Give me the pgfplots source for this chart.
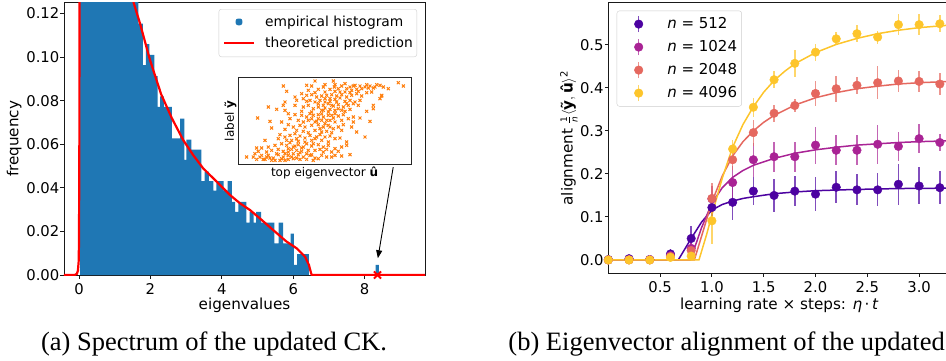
\documentclass[border=0pt]{standalone}
\usepackage{fontspec}
\setmainfont{DejaVu Sans}
\newfontfamily\capfont{Liberation Serif}
\usepackage{pgfplots}
\pgfplotsset{compat=1.18}
\usetikzlibrary{arrows.meta}
\definecolor{histblue}{HTML}{1F77B4}
\definecolor{scatorange}{HTML}{FF7F0E}
\definecolor{cA}{HTML}{4C02A1}
\definecolor{cB}{HTML}{A92395}
\definecolor{cC}{HTML}{E5685F}
\definecolor{cD}{HTML}{FDC52B}
\newcommand\tickfont{\fontsize{14.8}{17}\selectfont}
\newcommand\labfont{\fontsize{15.2}{18}\selectfont}
\pgfplotsset{
  mystyle/.style={
    scale only axis, anchor=south west,
    tick align=outside, major tick length=3.5pt,
    xtick pos=left, ytick pos=left,
    axis line style={line width=0.9pt, black!90},
    tick style={line width=0.9pt, black!90},
    /pgf/number format/assume math mode=true,
    tick label style={font=\tickfont},
    xticklabel style={anchor=base, yshift=-16pt, inner sep=0pt},
    yticklabel style={anchor=east, inner sep=0pt, xshift=-1pt},
    label style={font=\labfont},
  }
}
\begin{document}
\begin{tikzpicture}
\path[use as bounding box] (0,0) rectangle (946pt,360pt);

% ---------------- left panel ----------------
\begin{axis}[mystyle,
  at={(64pt,85pt)}, width=361pt, height=272.3pt,
  xmin=-0.42, xmax=9.69, ymin=0, ymax=0.125,
  xtick={0,2,4,6,8}, xticklabels={0,2,4,6,8},
  ytick={0,0.02,0.04,0.06,0.08,0.10,0.12},
  yticklabels={0.00,0.02,0.04,0.06,0.08,0.10,0.12},
  xlabel={eigenvalues}, ylabel={frequency},
  xlabel style={at={(axis description cs:0.5,-0.1164)}, anchor=base, yshift=-3pt},
  ylabel style={at={(axis description cs:-0.1266,0.5)}, anchor=base},
  legend cell align=left,
  legend style={at={(1,1)}, anchor=north east, xshift=-8pt, yshift=-6.3pt,
    font=\fontsize{13.8}{16}\selectfont, draw=black!20, rounded corners=2.5pt,
    fill=white, inner xsep=4pt, inner ysep=2.5pt,
    nodes={inner xsep=0pt, inner ysep=0pt},
    /tikz/every odd column/.style={column sep=10pt}},
]
\addplot[fill=histblue, draw=none, const plot mark left,
  legend image code/.code={\draw[opacity=0] (0pt,-10pt) rectangle (30pt,10pt);
     \fill[histblue] (11.6pt,-3.4pt) rectangle (18.4pt,3.4pt);}] coordinates {
(0.03,0.3) (1.66,0.1154) (1.79,0.0963) (1.87,0.106) (1.97,0.101) (2.11,0.0913)
(2.20,0.0772) (2.27,0.082) (2.38,0.0772) (2.60,0.0627) (2.83,0.0718) (2.95,0.0528)
(3.01,0.0622) (3.15,0.0576) (3.43,0.0431) (3.52,0.0474) (3.64,0.0431) (3.76,0.0387)
(3.85,0.0431) (4.05,0.0387) (4.16,0.0431) (4.28,0.0336) (4.37,0.029) (4.46,0.0336)
(4.69,0.024) (4.78,0.029) (4.89,0.024) (4.96,0.029) (5.10,0.024) (5.47,0.0145)
(5.59,0.024) (5.72,0.0145) (5.93,0.019) (6.02,0.0046) (6.11,0.0096) (6.44,0)
(8.31,0.0046) (8.40,0)} \closedcycle;
\addlegendentry{empirical histogram}
\addplot[red, line width=2.2pt,
  legend image code/.code={\draw[opacity=0] (0pt,-10pt) rectangle (30pt,10pt);
     \draw[red, line width=2.2pt] (0pt,0pt) -- (30pt,0pt);}] coordinates {
(-0.42,0) (-0.12,0) (-0.06,0.0005) (-0.03,0.002) (-0.01,0.006) (0.0,0.015)
(0.01,0.06) (0.02,0.3) (0.5,0.3) (1.3,0.15) (1.45,0.132) (1.53,0.125) (1.71,0.1154)
(1.99,0.0986) (2.3,0.083) (2.6,0.072) (2.92,0.0619) (3.2,0.055) (3.48,0.0489)
(3.86,0.0428) (4.23,0.0367) (4.51,0.0329) (4.79,0.0298) (5.1,0.0255) (5.44,0.0206)
(5.8,0.0155) (6.10,0.0122) (6.33,0.0084) (6.44,0.0046) (6.50,0.0008) (6.52,0) (9.69,0)};
\addlegendentry{theoretical prediction}
\addplot[forget plot, only marks, mark=x, mark size=5pt, red, line width=1.8pt]
  coordinates {(8.36,0)};
\draw[black, line width=0.9pt, -{Triangle[length=8pt,width=6pt]}]
  (axis cs:8.80,0.0495) -- (axis cs:8.37,0.0077);
\end{axis}

% ---------------- inset ----------------
\begin{axis}[scale only axis, anchor=south west,
  at={(238.3pt,195.3pt)}, width=172.7pt, height=87.7pt,
  xmin=10, xmax=528, ymin=15, ymax=278, y dir=reverse,
  xtick=\empty, ytick=\empty,
  axis background/.style={fill=white},
  axis line style={line width=0.9pt, black!85},
  label style={font=\fontsize{12}{14}\selectfont},
  xlabel={top eigenvector \textbf{û}}, ylabel={label \textbf{ỹ}},
  xlabel style={at={(axis description cs:0.5,-0.140)}, anchor=base},
  ylabel style={at={(axis description cs:-0.025,0.5)}, anchor=base},
]
\addplot[only marks, mark=x, mark size=2.1pt, scatorange, line width=1pt] table {
240 27
295 27
330 35
298 45
265 45
215 40
230 42
145 42
345 45
360 40
375 42
390 45
405 42
420 45
435 40
460 50
490 32
505 42
270 38
310 50
320 42
285 52
250 52
220 55
380 50
400 48
350 55
365 52
335 50
300 58
315 60
270 60
440 70
155 58
240 62
415 48
425 38
445 45
395 38
200 65
215 70
230 68
245 75
260 72
275 70
290 68
305 72
320 68
335 75
350 70
365 65
380 72
395 62
410 60
180 75
185 85
205 80
225 85
255 85
270 80
285 88
300 82
315 78
330 88
345 85
360 90
375 85
435 80
440 72
215 88
240 90
100 105
150 90
145 100
180 100
205 105
220 100
235 110
250 105
265 100
280 95
295 102
310 98
325 105
340 100
355 95
370 100
415 100
415 110
395 118
200 118
230 120
260 115
285 112
300 115
330 118
345 112
150 115
160 125
125 112
270 108
180 128
200 130
215 135
235 130
250 128
265 135
280 130
295 138
310 132
325 128
340 140
355 135
375 138
405 148
68 138
105 148
140 150
165 140
190 145
220 145
245 148
260 145
285 145
300 150
320 145
355 150
225 125
110 168
160 158
175 165
195 160
210 165
230 160
250 158
265 165
280 160
295 170
310 165
325 158
350 165
365 180
390 195
240 175
260 180
275 178
290 182
205 178
185 175
150 172
320 175
220 182
135 188
150 195
165 190
180 185
195 192
210 198
225 190
245 195
255 188
270 195
285 192
300 200
315 198
335 210
90 205
130 200
170 205
190 208
230 205
260 205
280 210
65 228
80 228
100 225
120 220
140 215
155 220
165 212
175 225
190 218
205 225
215 215
230 222
250 218
265 225
280 220
300 230
320 225
335 220
110 235
130 232
145 238
160 230
185 235
200 238
240 235
255 232
290 240
310 238
70 238
95 240
235 215
35 255
60 245
75 255
85 262
65 262
100 250
115 258
130 248
145 255
160 250
175 260
190 248
205 255
215 262
225 250
240 258
260 250
275 255
300 250
345 248
80 250
120 265
150 265
170 255
195 262
110 265
235 265
185 258
140 260
160 262
250 260
290 255
320 252
55 255
95 255
160 240
175 245
195 242
215 245
230 248
170 232
200 228
220 235
180 222
150 245
125 245
210 210
185 200
240 200
155 205
265 240
275 232
105 258
135 265
90 262
270 90
290 100
305 90
280 120
300 125
320 115
275 145
290 130
260 125
310 110
335 95
250 95
265 115
285 80
330 60
345 62
300 38
355 42
370 58
250 140
240 150
270 155
255 170
285 165
230 140
205 150
};
\end{axis}

% ---------------- right panel ----------------
\begin{axis}[mystyle,
  at={(608.3pt,86.7pt)}, width=341.9pt, height=270.6pt,
  xmin=0, xmax=3.3, ymin=-0.031, ymax=0.598,
  xtick={0.5,1,1.5,2,2.5,3}, xticklabels={0.5,1.0,1.5,2.0,2.5,3.0},
  ytick={0,0.1,0.2,0.3,0.4,0.5}, yticklabels={0.0,0.1,0.2,0.3,0.4,0.5},
  xlabel={learning rate × steps: \textit{η}\,·\,\textit{t}},
  ylabel={alignment $\frac{\mbox{\fontsize{9}{9}\selectfont 1}}{\mbox{\fontsize{9}{9}\selectfont\itshape n}}\langle\mbox{\textbf{ỹ}}, \mbox{\textbf{û}}\rangle^{\mbox{\fontsize{10}{10}\selectfont 2}}$},
  xlabel style={at={(axis description cs:0.5,-0.1234)}, anchor=base, yshift=-3pt},
  ylabel style={at={(axis description cs:-0.104,0.5)}, anchor=base},
  legend cell align=left,
  legend style={at={(0,1)}, anchor=north west, xshift=8.4pt, yshift=-8pt,
    font=\fontsize{15}{17}\selectfont, draw=black!20, rounded corners=2.5pt,
    fill=white, inner xsep=4.6pt, inner ysep=1.7pt,
    nodes={inner xsep=0pt, inner ysep=0pt},
    /tikz/every odd column/.style={column sep=11.4pt}},
  error bars/y dir=both, error bars/y explicit,
  error bars/error mark=none,
]
% fitted curves
\addplot[forget plot, cA, line width=1.5pt] coordinates {
(0,0) (0.675,0) (0.75,0.03) (0.8,0.05) (0.9,0.088) (1.0,0.116) (1.1,0.129) (1.2,0.137)
(1.3,0.143) (1.4,0.147) (1.6,0.154) (1.8,0.158) (2.0,0.161) (2.4,0.164) (2.8,0.166) (3.3,0.167)};
\addplot[forget plot, cB, line width=1.5pt] coordinates {
(0,0) (0.79,0) (0.85,0.04) (0.9,0.075) (1.0,0.132) (1.1,0.168) (1.2,0.192) (1.3,0.208)
(1.4,0.22) (1.6,0.236) (1.8,0.248) (2.0,0.256) (2.2,0.262) (2.4,0.267) (2.6,0.27)
(2.8,0.273) (3.0,0.275) (3.3,0.277)};
\addplot[forget plot, cC, line width=1.5pt] coordinates {
(0,0) (0.83,0) (0.9,0.055) (1.0,0.135) (1.1,0.195) (1.2,0.242) (1.3,0.275) (1.4,0.30)
(1.5,0.32) (1.6,0.336) (1.8,0.36) (2.0,0.377) (2.2,0.389) (2.4,0.398) (2.6,0.404)
(2.8,0.409) (3.0,0.412) (3.3,0.415)};
\addplot[forget plot, cD, line width=1.5pt] coordinates {
(0,0) (0.875,0) (0.9,0.02) (0.95,0.06) (1.0,0.105) (1.1,0.19) (1.2,0.262) (1.3,0.315)
(1.4,0.356) (1.5,0.39) (1.6,0.417) (1.7,0.438) (1.8,0.456) (2.0,0.482) (2.2,0.501)
(2.4,0.515) (2.6,0.526) (2.8,0.534) (3.0,0.540) (3.3,0.546)};
% data points
\addplot[only marks, mark=*, mark size=4.3pt, color=cA, mark options={draw=none, fill=cA},
  error bars/error bar style={cA, line width=1.5pt, opacity=0.7},
  legend image code/.code={\draw[opacity=0] (-17pt,-11.3pt) rectangle (17pt,11.3pt);
    \draw[cA, line width=1.5pt, opacity=0.7] (0pt,-8pt) -- (0pt,8pt);
    \fill[cA] (0pt,0pt) circle (4.3pt);}]
  coordinates {
(0,0.001) +- (0,0.002) (0.2,0.003) +- (0,0.003) (0.4,0.001) +- (0,0.002)
(0.6,0.014) +- (0,0.012) (0.8,0.050) +- (0,0.028) (1.0,0.122) +- (0,0.02)
(1.2,0.134) +- (0,0.04) (1.4,0.160) +- (0,0.032) (1.6,0.150) +- (0,0.039)
(1.8,0.160) +- (0,0.035) (2.0,0.153) +- (0,0.039) (2.2,0.169) +- (0,0.037)
(2.4,0.163) +- (0,0.036) (2.6,0.163) +- (0,0.038) (2.8,0.176) +- (0,0.048)
(3.0,0.172) +- (0,0.043) (3.2,0.168) +- (0,0.038)};
\addlegendentry{\textit{n} = 512}
\addplot[only marks, mark=*, mark size=4.3pt, color=cB, mark options={draw=none, fill=cB},
  error bars/error bar style={cB, line width=1.5pt, opacity=0.7},
  legend image code/.code={\draw[opacity=0] (-17pt,-11.3pt) rectangle (17pt,11.3pt);
    \draw[cB, line width=1.5pt, opacity=0.7] (0pt,-8pt) -- (0pt,8pt);
    \fill[cB] (0pt,0pt) circle (4.3pt);}]
  coordinates {
(0,0) +- (0,0.002) (0.2,0.001) +- (0,0.002) (0.4,0.001) +- (0,0.002)
(0.6,0.010) +- (0,0.01) (0.8,0.027) +- (0,0.02) (1.0,0.142) +- (0,0.03)
(1.2,0.180) +- (0,0.039) (1.4,0.233) +- (0,0.039) (1.6,0.240) +- (0,0.035)
(1.8,0.240) +- (0,0.035) (2.0,0.267) +- (0,0.043) (2.2,0.255) +- (0,0.035)
(2.4,0.255) +- (0,0.035) (2.6,0.269) +- (0,0.045) (2.8,0.264) +- (0,0.033)
(3.0,0.282) +- (0,0.033) (3.2,0.273) +- (0,0.02)};
\addlegendentry{\textit{n} = 1024}
\addplot[only marks, mark=*, mark size=4.3pt, color=cC, mark options={draw=none, fill=cC},
  error bars/error bar style={cC, line width=1.5pt, opacity=0.7},
  legend image code/.code={\draw[opacity=0] (-17pt,-11.3pt) rectangle (17pt,11.3pt);
    \draw[cC, line width=1.5pt, opacity=0.7] (0pt,-8pt) -- (0pt,8pt);
    \fill[cC] (0pt,0pt) circle (4.3pt);}]
  coordinates {
(0,0) +- (0,0.002) (0.2,0) +- (0,0.002) (0.4,0) +- (0,0.002)
(0.6,0.008) +- (0,0.008) (0.8,0.022) +- (0,0.015) (1.0,0.143) +- (0,0.035)
(1.2,0.233) +- (0,0.025) (1.4,0.296) +- (0,0.03) (1.6,0.341) +- (0,0.02)
(1.8,0.359) +- (0,0.015) (2.0,0.387) +- (0,0.03) (2.2,0.398) +- (0,0.03)
(2.4,0.406) +- (0,0.02) (2.6,0.412) +- (0,0.038) (2.8,0.416) +- (0,0.025)
(3.0,0.415) +- (0,0.025) (3.2,0.409) +- (0,0.025)};
\addlegendentry{\textit{n} = 2048}
\addplot[only marks, mark=*, mark size=4.3pt, color=cD, mark options={draw=none, fill=cD},
  error bars/error bar style={cD, line width=1.5pt, opacity=0.7},
  legend image code/.code={\draw[opacity=0] (-17pt,-11.3pt) rectangle (17pt,11.3pt);
    \draw[cD, line width=1.5pt, opacity=0.7] (0pt,-8pt) -- (0pt,8pt);
    \fill[cD] (0pt,0pt) circle (4.3pt);}]
  coordinates {
(0,0) +- (0,0.002) (0.2,0) +- (0,0.002) (0.4,0) +- (0,0.002)
(0.6,0.006) +- (0,0.006) (0.8,0.009) +- (0,0.01) (1.0,0.091) +- (0,0.053)
(1.2,0.258) +- (0,0.02) (1.4,0.355) +- (0,0.022) (1.6,0.419) +- (0,0.02)
(1.8,0.457) +- (0,0.031) (2.0,0.483) +- (0,0.02) (2.2,0.514) +- (0,0.015)
(2.4,0.526) +- (0,0.02) (2.6,0.518) +- (0,0.015) (2.8,0.547) +- (0,0.025)
(3.0,0.547) +- (0,0.025) (3.2,0.549) +- (0,0.02)};
\addlegendentry{\textit{n} = 4096}
\end{axis}

% captions
\node[anchor=base, font=\capfont\fontsize{26.5}{30}\selectfont, inner sep=0pt]
  at (214pt,10pt) {(a) Spectrum of the updated CK.};
\node[anchor=base east, font=\capfont\fontsize{26.5}{30}\selectfont, inner sep=0pt]
  at (945pt,10pt) {(b) Eigenvector alignment of the updated};
\end{tikzpicture}
\end{document}
